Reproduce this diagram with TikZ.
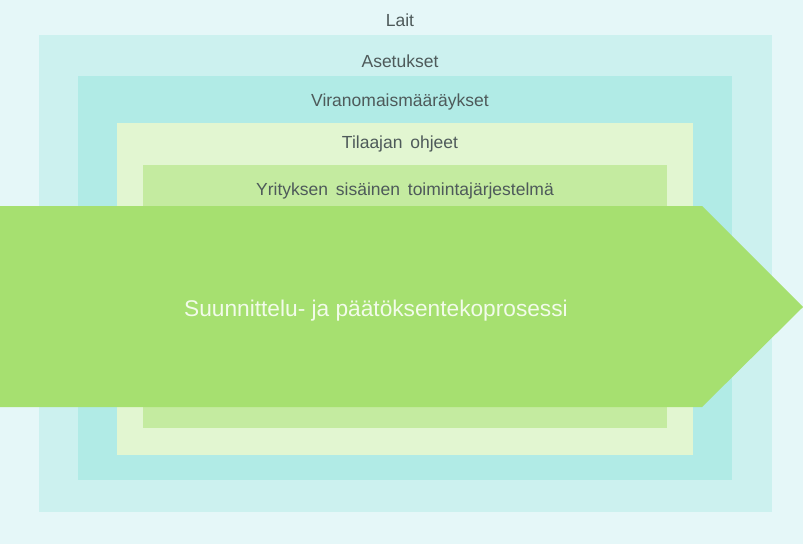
\documentclass[tikz,border=0pt]{standalone}
\usepackage{fontspec}
\setmainfont{Liberation Sans}
\definecolor{bgcol}{HTML}{E5F7F8}
\definecolor{lawcol}{HTML}{CCF1EF}
\definecolor{regcol}{HTML}{B1EBE6}
\definecolor{clientcol}{HTML}{E2F6D1}
\definecolor{firmcol}{HTML}{C4EBA0}
\definecolor{arrowcol}{HTML}{A6E070}
\definecolor{labelcol}{HTML}{4E5A5A}
\definecolor{maincol}{HTML}{F2FBEA}
\tikzset{layer/.style={text=labelcol, font=\fontsize{17.5}{20}\selectfont}}
\begin{document}
\begin{tikzpicture}[x=1pt, y=-1pt]
    \fill[bgcol] (0, 0) rectangle (803, 544);
    \fill[lawcol] (39, 35) rectangle (772, 512);
    \fill[regcol] (78, 76) rectangle (732, 480);
    \fill[clientcol] (117, 123) rectangle (693, 455);
    \fill[firmcol] (143, 165) rectangle (667, 428);
    \fill[arrowcol] (0, 206) -- (702, 206) -- (803, 307) -- (702, 407) -- (0, 407) -- cycle;

    \node[layer] (lait) at (400, 20) {Lait};
    \node[layer] (asetukset) at (400, 61) {Asetukset};
    \node[layer] (viranomais) at (400, 101.5) {Viranomaismääräykset};
    \node[layer] (tilaaja) at (400, 143.5) {Tilaajan\, ohjeet};
    \node[layer] (yritys) at (405, 191) {Yrityksen\, sisäinen\, toimintajärjestelmä};
    \node[text=maincol, font=\fontsize{22.7}{26}\selectfont] (prosessi) at (376, 310.5) {Suunnittelu- ja päätöksentekoprosessi};
\end{tikzpicture}
\end{document}
